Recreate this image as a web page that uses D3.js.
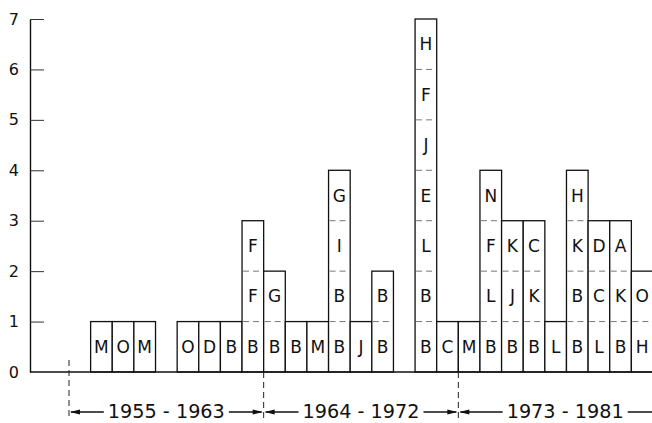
<!DOCTYPE html>
<html>
<head>
<meta charset="utf-8">
<script src="https://cdn.jsdelivr.net/npm/d3@7"></script>
<style>
  html, body { margin: 0; padding: 0; background: #fff; }
  svg { display: block; }
</style>
</head>
<body>
<div id="chart"></div>
<script>
// one slot per year, letters stacked from the bottom cell upward
const years = [1955, 1956, 1957, 1958, 1959, 1960, 1961, 1962, 1963,
               1964, 1965, 1966, 1967, 1968, 1969, 1970, 1971, 1972,
               1973, 1974, 1975, 1976, 1977, 1978, 1979, 1980, 1981];
const letters = [
    [], ["M"], ["O"], ["M"], [], ["O"], ["D"], ["B"], ["B", "F", "F"],
    ["B", "G"], ["B"], ["M"], ["B", "B", "I", "G"], ["J"], ["B", "B"], [],
    ["B", "B", "L", "E", "J", "F", "H"], ["C"],
    ["M"], ["B", "L", "F", "N"], ["B", "J", "K"], ["B", "K", "C"], ["L"],
    ["B", "B", "K", "H"], ["L", "C", "D"], ["B", "K", "A"], ["H", "O"]
];
const yTicks = [0, 1, 2, 3, 4, 5, 6, 7];
const periodLabels = ["1955 - 1963", "1964 - 1972", "1973 - 1981"];
const periodStarts = [1955, 1964, 1973];

const width = 652;
const height = 423;
const axisX = 30;

const svg = d3.select("#chart")
    .append("svg")
    .attr("width", width)
    .attr("height", height);

const data = years.map((year, i) => ({ year: year, cells: letters[i] }));

const x = d3.scaleBand().domain(years).range([69, 653]).padding(0);
const y = d3.scaleLinear().domain([0, 7]).range([372, 19]);
const bw = x.bandwidth();

// y axis, ticks pointing inward
const yAxis = d3.axisLeft(y)
    .tickValues(yTicks)
    .tickSizeInner(-14)
    .tickSizeOuter(0)
    .tickPadding(11)
    .tickFormat(d3.format("d"));

const gy = svg.append("g")
    .attr("transform", `translate(${axisX},0)`)
    .call(yAxis);
gy.select(".domain").attr("stroke", "#111").attr("stroke-width", 1.4);
gy.selectAll(".tick line").attr("stroke", "#333").attr("stroke-width", 1)
    .filter(d => d === 0).remove();
gy.selectAll(".tick text")
    .attr("fill", "#111")
    .style("font-family", "'DejaVu Sans', sans-serif")
    .style("font-size", "16px");

// bars
const bars = svg.selectAll("g.bar")
    .data(data.filter(d => d.cells.length > 0))
    .enter()
    .append("g")
    .attr("class", "bar");

bars.append("rect")
    .attr("x", d => x(d.year))
    .attr("y", d => y(d.cells.length))
    .attr("width", bw)
    .attr("height", d => y(0) - y(d.cells.length))
    .attr("fill", "#fff")
    .attr("stroke", "#111")
    .attr("stroke-width", 1.3);

// dashed separators between stacked cells
bars.selectAll("line.sep")
    .data(d => d3.range(1, d.cells.length).map(k => ({ year: d.year, level: k })))
    .enter()
    .append("line")
    .attr("class", "sep")
    .attr("x1", d => x(d.year) + 1)
    .attr("x2", d => x(d.year) + bw - 1)
    .attr("y1", d => y(d.level))
    .attr("y2", d => y(d.level))
    .attr("stroke", "#777")
    .attr("stroke-width", 1)
    .attr("stroke-dasharray", "6,4");

bars.selectAll("text.cell")
    .data(d => d.cells.map((c, k) => ({ year: d.year, level: k, label: c })))
    .enter()
    .append("text")
    .attr("class", "cell")
    .attr("x", d => x(d.year) + bw / 2)
    .attr("y", d => y(d.level + 0.5))
    .attr("dy", "0.36em")
    .attr("text-anchor", "middle")
    .attr("fill", "#111")
    .style("font-family", "'DejaVu Sans', sans-serif")
    .style("font-size", "17px")
    .text(d => d.label);

// baseline
svg.append("line")
    .attr("x1", axisX).attr("x2", width)
    .attr("y1", y(0)).attr("y2", y(0))
    .attr("stroke", "#111")
    .attr("stroke-width", 1.5);

// period markers below the axis
const arrowY = 412;
const bounds = periodStarts.map(s => x(s));
const ends = [bounds[1], bounds[2], x.range()[1] + 19];

svg.selectAll("line.marker")
    .data(bounds)
    .enter()
    .append("line")
    .attr("class", "marker")
    .attr("x1", d => d).attr("x2", d => d)
    .attr("y1", (d, i) => i === 0 ? y(0) - 12 : y(0))
    .attr("y2", 419)
    .attr("stroke", "#222")
    .attr("stroke-width", 1)
    .attr("stroke-dasharray", "6,4");

const periods = svg.selectAll("g.period")
    .data(periodLabels.map((label, i) => ({ label: label, x0: bounds[i], x1: ends[i] })))
    .enter()
    .append("g")
    .attr("class", "period");

const textW = 117;

periods.append("text")
    .attr("x", d => (d.x0 + d.x1) / 2)
    .attr("y", 418)
    .attr("text-anchor", "middle")
    .attr("fill", "#111")
    .attr("textLength", textW)
    .attr("lengthAdjust", "spacingAndGlyphs")
    .style("font-family", "'DejaVu Sans', sans-serif")
    .style("font-size", "20px")
    .text(d => d.label);

periods.append("line")
    .attr("x1", d => d.x0 + 2)
    .attr("x2", d => (d.x0 + d.x1) / 2 - textW / 2 - 4)
    .attr("y1", arrowY).attr("y2", arrowY)
    .attr("stroke", "#111").attr("stroke-width", 1.3);

periods.append("line")
    .attr("x1", d => (d.x0 + d.x1) / 2 + textW / 2 + 4)
    .attr("x2", d => d.x1 - 2)
    .attr("y1", arrowY).attr("y2", arrowY)
    .attr("stroke", "#111").attr("stroke-width", 1.3);

// arrow heads: left one points left, right one points right
periods.append("path")
    .attr("d", d => `M${d.x0 + 1},${arrowY} l10,-2.6 l0,5.2 z`)
    .attr("fill", "#111");

periods.append("path")
    .attr("d", d => `M${d.x1 - 1},${arrowY} l-10,-2.6 l0,5.2 z`)
    .attr("fill", "#111");
</script>
</body>
</html>
